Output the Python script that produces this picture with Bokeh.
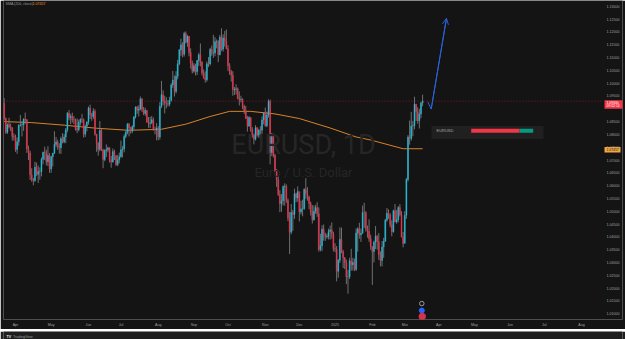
from bokeh.plotting import figure
from bokeh.models import (Range1d, FixedTicker, ColumnDataSource, Label,
                          Arrow, OpenHead, PrintfTickFormatter)
from bokeh.layouts import column
from bokeh.embed import file_html
from bokeh.resources import INLINE

# ---------------- data (EURUSD daily) ----------------
symbol = "EURUSD"
timeframe = "1D"
description = "Euro / U.S. Dollar"

first_idx = -7          # bar index of first candle (Apr 1 2024 = 0)
first_open = 1.0922

closes = [
    1.0862, 1.0808, 1.0838, 1.0830, 1.0826, 1.0792, 1.0790,
    1.0741, 1.0771, 1.0836, 1.0837, 1.0838, 1.0860, 1.0857, 1.0743, 1.0727, 1.0642, 1.0623,
    1.0619, 1.0672, 1.0644, 1.0655, 1.0655, 1.0703, 1.0730, 1.0728, 1.0693, 1.0718, 1.0665,
    1.0713, 1.0727, 1.0761, 1.0770, 1.0753, 1.0748, 1.0783, 1.0771, 1.0790, 1.0818, 1.0883,
    1.0866, 1.0870, 1.0857, 1.0856, 1.0823, 1.0818, 1.0847, 1.0858, 1.0857, 1.0801, 1.0832, 1.0848,
    1.0903, 1.0877, 1.0870, 1.0890, 1.0801, 1.0765, 1.0741, 1.0815, 1.0739, 1.0702,
    1.0737, 1.0740, 1.0747, 1.0701, 1.0692, 1.0733, 1.0715, 1.0682, 1.0701, 1.0713,
    1.0740, 1.0743, 1.0792, 1.0808, 1.0840, 1.0826, 1.0813, 1.0830, 1.0868, 1.0907, 1.0894,
    1.0899, 1.0938, 1.0898, 1.0882, 1.0893, 1.0847, 1.0843, 1.0845, 1.0857, 1.0820, 1.0817, 1.0825,
    1.0790, 1.0910, 1.0955, 1.0930, 1.0922, 1.0920, 1.0918, 1.0933, 1.0993, 1.1012, 1.0968,
    1.1027, 1.1076, 1.1130, 1.1150, 1.1113, 1.1194, 1.1160, 1.1183, 1.1120, 1.1078, 1.1047,
    1.1068, 1.1045, 1.1089, 1.1111, 1.1082, 1.1040, 1.1020, 1.1013, 1.1076, 1.1075, 1.1132,
    1.1117, 1.1118, 1.1162, 1.1163, 1.1111, 1.1180, 1.1133, 1.1177, 1.1164, 1.1135,
    1.1068, 1.1045, 1.1031, 1.0974, 1.0975, 1.0978, 1.0940, 1.0936, 1.0937, 1.0910, 1.0891,
    1.0862, 1.0833, 1.0866, 1.0818, 1.0797, 1.0781, 1.0826, 1.0797, 1.0817, 1.0816, 1.0856, 1.0884,
    1.0834, 1.0876, 1.0929, 1.0729, 1.0800, 1.0718, 1.0655, 1.0623, 1.0565, 1.0529, 1.0541,
    1.0596, 1.0597, 1.0542, 1.0472, 1.0418, 1.0495, 1.0487, 1.0568, 1.0552, 1.0577,
    1.0497, 1.0509, 1.0510, 1.0585, 1.0568, 1.0555, 1.0530, 1.0497, 1.0467, 1.0500, 1.0514,
    1.0490, 1.0350, 1.0365, 1.0430, 1.0407, 1.0400, 1.0402, 1.0421, 1.0427, 1.0410, 1.0354,
    1.0352, 1.0265, 1.0308, 1.0390, 1.0342, 1.0318, 1.0299, 1.0244, 1.0244, 1.0306, 1.0291,
    1.0300, 1.0272, 1.0415, 1.0431, 1.0408, 1.0414, 1.0495, 1.0494, 1.0431, 1.0422, 1.0392, 1.0362,
    1.0343, 1.0379, 1.0402, 1.0381, 1.0330, 1.0307, 1.0360, 1.0383, 1.0465, 1.0492,
    1.0486, 1.0447, 1.0420, 1.0502, 1.0458, 1.0467, 1.0514, 1.0486, 1.0399, 1.0374,
    1.0484, 1.0624, 1.0790, 1.0784, 1.0833, 1.0834, 1.0918, 1.0888, 1.0853, 1.0880, 1.0923, 1.0930,
]

highs = [
    1.0942, 1.0866, 1.0843, 1.0865, 1.0842, 1.0828, 1.0804,
    1.0799, 1.0788, 1.0840, 1.0876, 1.0852, 1.0863, 1.0885, 1.0860, 1.0756, 1.0736, 1.0668,
    1.0630, 1.0693, 1.0690, 1.0678, 1.0671, 1.0710, 1.0733, 1.0752, 1.0740, 1.0754, 1.0727,
    1.0716, 1.0728, 1.0812, 1.0790, 1.0779, 1.0765, 1.0791, 1.0805, 1.0801, 1.0825, 1.0887,
    1.0895, 1.0880, 1.0885, 1.0872, 1.0862, 1.0862, 1.0858, 1.0863, 1.0880, 1.0862, 1.0838, 1.0852,
    1.0909, 1.0916, 1.0884, 1.0902, 1.0898, 1.0802, 1.0770, 1.0852, 1.0825, 1.0744,
    1.0742, 1.0761, 1.0752, 1.0750, 1.0716, 1.0745, 1.0740, 1.0720, 1.0720, 1.0729,
    1.0776, 1.0755, 1.0800, 1.0816, 1.0845, 1.0845, 1.0830, 1.0836, 1.0872, 1.0910, 1.0911,
    1.0914, 1.0948, 1.0942, 1.0907, 1.0904, 1.0895, 1.0868, 1.0869, 1.0872, 1.0866, 1.0830, 1.0844,
    1.0833, 1.0926, 1.1009, 1.0972, 1.0951, 1.0945, 1.0934, 1.0947, 1.1000, 1.1048, 1.1030,
    1.1047, 1.1091, 1.1134, 1.1174, 1.1160, 1.1201, 1.1202, 1.1189, 1.1184, 1.1136, 1.1088,
    1.1078, 1.1076, 1.1090, 1.1119, 1.1155, 1.1086, 1.1054, 1.1046, 1.1085, 1.1102, 1.1138,
    1.1147, 1.1189, 1.1180, 1.1171, 1.1168, 1.1189, 1.1214, 1.1191, 1.1204, 1.1210,
    1.1148, 1.1078, 1.1052, 1.1047, 1.0985, 1.0996, 1.0983, 1.0968, 1.0951, 1.0941, 1.0916,
    1.0911, 1.0872, 1.0871, 1.0866, 1.0828, 1.0803, 1.0836, 1.0829, 1.0822, 1.0832, 1.0870, 1.0886,
    1.0905, 1.0889, 1.0937, 1.0936, 1.0805, 1.0803, 1.0724, 1.0665, 1.0637, 1.0582, 1.0567,
    1.0601, 1.0609, 1.0605, 1.0550, 1.0497, 1.0528, 1.0505, 1.0588, 1.0572, 1.0597,
    1.0565, 1.0541, 1.0545, 1.0590, 1.0629, 1.0594, 1.0560, 1.0537, 1.0524, 1.0522, 1.0525,
    1.0535, 1.0515, 1.0412, 1.0445, 1.0448, 1.0416, 1.0412, 1.0432, 1.0444, 1.0456, 1.0420,
    1.0375, 1.0364, 1.0313, 1.0437, 1.0436, 1.0349, 1.0321, 1.0311, 1.0270, 1.0318, 1.0353,
    1.0318, 1.0315, 1.0433, 1.0437, 1.0455, 1.0432, 1.0522, 1.0533, 1.0500, 1.0444, 1.0468, 1.0408,
    1.0362, 1.0385, 1.0442, 1.0407, 1.0415, 1.0343, 1.0384, 1.0396, 1.0470, 1.0513,
    1.0507, 1.0492, 1.0464, 1.0506, 1.0528, 1.0505, 1.0520, 1.0528, 1.0500, 1.0419,
    1.0500, 1.0630, 1.0797, 1.0854, 1.0888, 1.0853, 1.0947, 1.0919, 1.0906, 1.0900, 1.0927, 1.0955,
]

lows = [
    1.0855, 1.0802, 1.0802, 1.0823, 1.0813, 1.0776, 1.0776,
    1.0732, 1.0724, 1.0756, 1.0830, 1.0792, 1.0814, 1.0842, 1.0728, 1.0700, 1.0622, 1.0615,
    1.0601, 1.0615, 1.0637, 1.0610, 1.0623, 1.0636, 1.0683, 1.0700, 1.0679, 1.0676, 1.0650,
    1.0650, 1.0675, 1.0723, 1.0750, 1.0740, 1.0725, 1.0724, 1.0765, 1.0765, 1.0766, 1.0808,
    1.0855, 1.0840, 1.0846, 1.0840, 1.0815, 1.0805, 1.0812, 1.0835, 1.0845, 1.0788, 1.0790, 1.0812,
    1.0838, 1.0860, 1.0853, 1.0860, 1.0795, 1.0732, 1.0717, 1.0734, 1.0735, 1.0668,
    1.0695, 1.0712, 1.0730, 1.0690, 1.0670, 1.0690, 1.0700, 1.0677, 1.0676, 1.0687,
    1.0709, 1.0710, 1.0730, 1.0785, 1.0800, 1.0792, 1.0803, 1.0805, 1.0820, 1.0862, 1.0880,
    1.0870, 1.0894, 1.0887, 1.0875, 1.0873, 1.0846, 1.0826, 1.0825, 1.0840, 1.0814, 1.0800, 1.0777,
    1.0777, 1.0780, 1.0903, 1.0914, 1.0882, 1.0902, 1.0909, 1.0910, 1.0928, 1.0982, 1.0948,
    1.0960, 1.1015, 1.1070, 1.1107, 1.1101, 1.1104, 1.1155, 1.1142, 1.1105, 1.1057, 1.1038,
    1.1041, 1.1030, 1.1032, 1.1068, 1.1066, 1.1030, 1.1017, 1.1002, 1.1006, 1.1063, 1.1069,
    1.1107, 1.1099, 1.1105, 1.1136, 1.1082, 1.1109, 1.1126, 1.1123, 1.1143, 1.1132,
    1.1048, 1.1033, 1.1006, 1.0951, 1.0954, 1.0956, 1.0937, 1.0913, 1.0925, 1.0899, 1.0880,
    1.0860, 1.0811, 1.0829, 1.0810, 1.0787, 1.0761, 1.0776, 1.0791, 1.0786, 1.0788, 1.0802, 1.0839,
    1.0830, 1.0828, 1.0866, 1.0683, 1.0715, 1.0710, 1.0654, 1.0595, 1.0560, 1.0496, 1.0498,
    1.0522, 1.0522, 1.0533, 1.0461, 1.0333, 1.0410, 1.0423, 1.0470, 1.0535, 1.0537,
    1.0460, 1.0487, 1.0480, 1.0505, 1.0548, 1.0541, 1.0508, 1.0483, 1.0452, 1.0463, 1.0490,
    1.0478, 1.0342, 1.0343, 1.0344, 1.0385, 1.0384, 1.0393, 1.0390, 1.0389, 1.0393, 1.0343,
    1.0340, 1.0226, 1.0240, 1.0298, 1.0336, 1.0278, 1.0274, 1.0215, 1.0178, 1.0235, 1.0268,
    1.0268, 1.0266, 1.0267, 1.0342, 1.0393, 1.0380, 1.0412, 1.0435, 1.0420, 1.0397, 1.0380, 1.0349,
    1.0212, 1.0300, 1.0352, 1.0350, 1.0310, 1.0285, 1.0284, 1.0318, 1.0380, 1.0459,
    1.0470, 1.0437, 1.0402, 1.0416, 1.0457, 1.0451, 1.0456, 1.0480, 1.0398, 1.0359,
    1.0377, 1.0470, 1.0616, 1.0760, 1.0775, 1.0793, 1.0820, 1.0852, 1.0842, 1.0823, 1.0863, 1.0910,
]

# 200-day SMA
sma_idx = [-7, 10, 30, 50, 70, 90, 105, 120, 132, 145, 160, 175, 194, 210, 219, 239, 251]
sma_vals = [1.0850, 1.0846, 1.0836, 1.0824, 1.0816, 1.0820, 1.0840, 1.0870, 1.0890,
            1.0890, 1.0880, 1.0862, 1.0825, 1.0790, 1.0778, 1.0744, 1.0744]
sma_last = 1.07457

# projection arrow drawn on the chart
proj_idx = [254.2, 256.3, 265.7]
proj_price = [1.0927, 1.0899, 1.1253]

# month ticks (bar index of first trading day)
month_idx = [0, 22, 45, 65, 88, 110, 131, 154, 175, 197, 220, 240, 261, 283, 305, 326, 349]
month_labels = ["Apr", "May", "Jun", "Jul", "Aug", "Sep", "Oct", "Nov", "Dec",
                "2025", "Feb", "Mar", "Apr", "May", "Jun", "Jul", "Aug"]

y_ticks = [1.130, 1.125, 1.120, 1.115, 1.110, 1.105, 1.100, 1.095, 1.085, 1.080,
           1.075, 1.070, 1.065, 1.060, 1.055, 1.050, 1.045, 1.040, 1.035, 1.030,
           1.025, 1.020, 1.015, 1.010]

sentiment_short = 78   # % share of the red part in the widget bar
sentiment_long = 22

# ---------------- layout constants ----------------
W, H_MAIN, H_BAR = 625, 329, 10
BL, BR, BT, BB = 3, 3, 0, 9
PX_PER_BAR = 1.6219
X0 = -7.4
X1 = X0 + (W - BL - BR) / PX_PER_BAR
Y0, Y1 = 1.0077, 1.1323
FW, FH = W - BL - BR, H_MAIN - BT - BB

def px_x(px):
    return X0 + (px - BL) / FW * (X1 - X0)

def px_y(py):
    return Y1 - (py - BT) / FH * (Y1 - Y0)

BG = "#141414"
UP, DOWN, WICK = "#20bcd9", "#e8344e", "#7a7a7a"
FONT = "Liberation Sans"
AX_FS = "3.6px"

# ---------------- table ----------------
idx = list(range(first_idx, first_idx + len(closes)))
opens = [first_open] + closes[:-1]
src = ColumnDataSource(dict(
    x=idx, open=opens, close=closes, high=highs, low=lows,
    top=[max(o, c) for o, c in zip(opens, closes)],
    bottom=[min(o, c) for o, c in zip(opens, closes)],
    color=[UP if c >= o else DOWN for o, c in zip(opens, closes)],
))

p = figure(width=W, height=H_MAIN, x_range=Range1d(X0, X1), y_range=Range1d(Y0, Y1),
           output_backend="svg", toolbar_location=None, y_axis_location="right",
           min_border_left=BL, min_border_right=BR, min_border_top=BT, min_border_bottom=BB,
           background_fill_color=BG, border_fill_color=BG, outline_line_color=None)
p.grid.visible = False

# watermark
p.add_layout(Label(x=px_x(303), y=px_y(145), text=f"{symbol}, {timeframe}",
                   text_align="center", text_baseline="middle", text_font="Roboto",
                   text_font_size="27px", text_color="#262626"))
p.add_layout(Label(x=px_x(303), y=px_y(173), text=description,
                   text_align="center", text_baseline="middle", text_font="Roboto",
                   text_font_size="13px", text_color="#262626"))

# current price dotted line (up to the price scale)
p.segment(x0=[X0], y0=[closes[-1]], x1=[px_x(603)], y1=[closes[-1]],
          line_color="#7c1e29", line_width=1, line_dash="1 2")

# SMA
p.line(sma_idx, sma_vals, line_color="#d9822b", line_width=1)

# candles
p.segment(x0="x", y0="low", x1="x", y1="high", source=src, line_color=WICK, line_width=0.9)
p.vbar(x="x", width=0.62, top="top", bottom="bottom", source=src,
       fill_color="color", line_color="color", line_width=0.4)

# projection
PROJ = "#2b62d6"
p.line(proj_idx, proj_price, line_color=PROJ, line_width=1)
p.add_layout(Arrow(end=OpenHead(size=6, line_color=PROJ, line_width=1),
                   x_start=proj_idx[-2], y_start=proj_price[-2],
                   x_end=proj_idx[-1], y_end=proj_price[-1],
                   line_color=PROJ, line_width=1))

# sentiment widget
wl, wr, wt, wb = px_x(431), px_x(543), px_y(126), px_y(139)
p.quad(left=[wl], right=[wr], top=[wt], bottom=[wb], fill_color="#202020", line_color=None)
bl, br = px_x(470.7), px_x(532.7)
bsplit = bl + (br - bl) * sentiment_short / (sentiment_short + sentiment_long)
p.quad(left=[bl, bsplit], right=[bsplit, br], top=[px_y(128.7)] * 2, bottom=[px_y(132.7)] * 2,
       fill_color=["#f23645", "#089981"], line_color=None)
p.add_layout(Label(x=px_x(436), y=px_y(130.9), text=symbol, text_baseline="middle",
                   text_font=FONT, text_font_size="4px", text_color="#a8a8a8"))

# event markers near the time axis
ev_x = [250.5, 250.5, 250.8]
ev_y = [px_y(304), px_y(311), px_y(317)]
p.scatter(ev_x, ev_y, size=[4.5, 5, 6.5], marker="circle",
          fill_color=["#141414", "#2962ff", "#d8324a"], line_color=["#9a9a9a", "#2962ff", "#d8324a"],
          line_width=1)

# legend
p.add_layout(Label(x=px_x(5), y=px_y(3.2), text="SMA (200, close)", text_baseline="middle",
                   text_font=FONT, text_font_size=AX_FS, text_color="#9a9a9a"))
p.add_layout(Label(x=px_x(32), y=px_y(3.2), text=f"{sma_last:.5f}", text_baseline="middle",
                   text_font=FONT, text_font_size=AX_FS, text_color="#f0922b"))

# price-scale boxes (current price and SMA value)
p.quad(left=[px_x(604), px_x(604)], right=[px_x(626), px_x(620)],
       top=[px_y(100), px_y(147)], bottom=[px_y(108.5), px_y(152.5)],
       fill_color=["#f23645", "#f5a53a"], line_color=None)
p.add_layout(Label(x=px_x(606), y=px_y(102.2), text=f"{closes[-1]:.5f}", text_baseline="middle",
                   text_font=FONT, text_font_size="3.4px", text_color="#ffffff"))
p.add_layout(Label(x=px_x(606), y=px_y(106.3), text="09:52:14", text_baseline="middle",
                   text_font=FONT, text_font_size="3.4px", text_color="#ffffff"))
p.add_layout(Label(x=px_x(606), y=px_y(149.8), text=f"{sma_last:.5f}", text_baseline="middle",
                   text_font=FONT, text_font_size="3.4px", text_color="#1a1a1a"))

# axes
for ax in (p.xaxis[0], p.yaxis[0]):
    ax.axis_line_color = None
    ax.major_tick_line_color = None
    ax.minor_tick_line_color = None
    ax.major_tick_out = 0
    ax.major_tick_in = 0
    ax.major_label_text_color = "#a0a0a0"
    ax.major_label_text_font = FONT
    ax.major_label_text_font_size = AX_FS
p.xaxis.major_label_standoff = 3
p.yaxis.major_label_standoff = -16
p.yaxis.ticker = FixedTicker(ticks=y_ticks)
p.yaxis.formatter = PrintfTickFormatter(format="%.5f")
p.xaxis.ticker = FixedTicker(ticks=month_idx)
p.xaxis.major_label_overrides = {i: s for i, s in zip(month_idx, month_labels)}

# bottom bar
b = figure(width=W, height=H_BAR, x_range=Range1d(0, W), y_range=Range1d(0, H_BAR),
           output_backend="svg", toolbar_location=None, min_border=0,
           background_fill_color="#1e1e1e", border_fill_color="#1e1e1e", outline_line_color=None)
b.axis.visible = False
b.grid.visible = False
b.add_layout(Label(x=3, y=5, text="TV", text_baseline="middle", text_font=FONT,
                   text_font_style="bold", text_font_size="3.6px", text_color="#e8e8e8"))
b.add_layout(Label(x=9.5, y=5, text="TradingView", text_baseline="middle", text_font=FONT,
                   text_font_size="3.6px", text_color="#9a9a9a"))

layout = column(p, b, spacing=0)
open("out.html", "w").write(file_html(layout, INLINE))
